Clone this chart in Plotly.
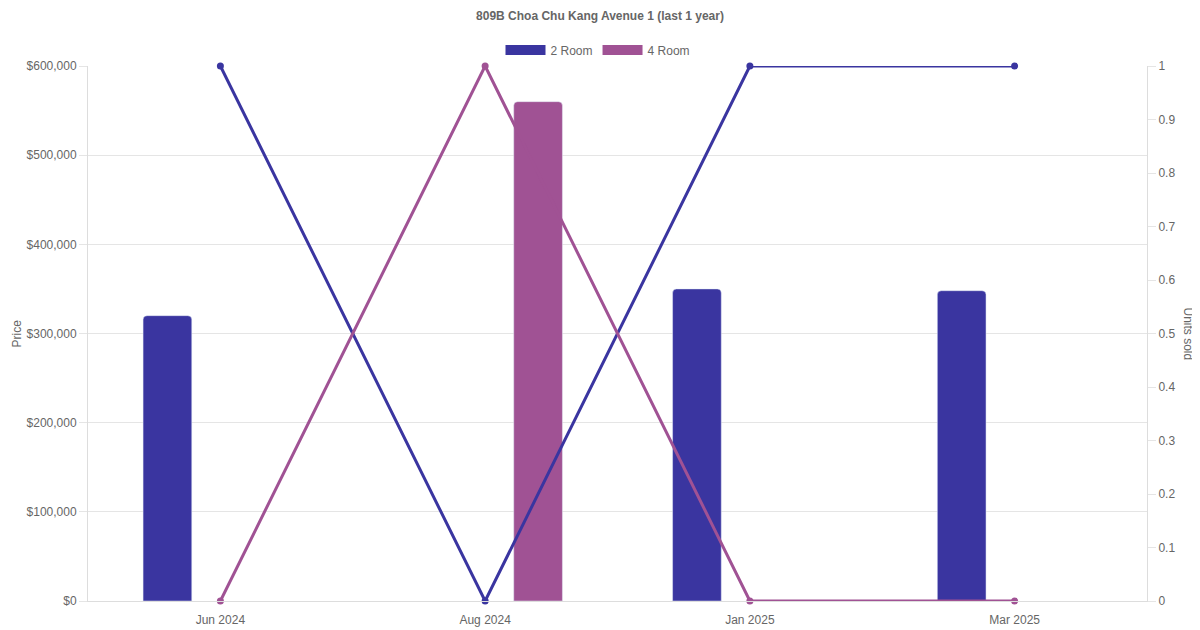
import plotly.graph_objects as go

months = ["Jun 2024", "Aug 2024", "Jan 2025", "Mar 2025"]
price_2room = [320000, None, 350000, 348000]
price_4room = [None, 560000, None, None]
units_2room = [1, 0, 1, 1]
units_4room = [0, 1, 0, 0]

c2 = "#3a35a0"
c4 = "#a05294"
grey = "#666666"

fig = go.Figure()
fig.add_trace(go.Bar(x=months, y=price_2room, name="2 Room", marker_color=c2,
                     showlegend=False, legendgroup="2", yaxis="y"))
fig.add_trace(go.Bar(x=months, y=price_4room, name="4 Room", marker_color=c4,
                     showlegend=False, legendgroup="4", yaxis="y"))
fig.add_trace(go.Scatter(x=months, y=units_2room, mode="lines+markers", name="2 Room",
                         line=dict(color=c2, width=3), marker=dict(size=7, color=c2),
                         showlegend=False, legendgroup="2", yaxis="y2", cliponaxis=False))
fig.add_trace(go.Scatter(x=months, y=units_4room, mode="lines+markers", name="4 Room",
                         line=dict(color=c4, width=3), marker=dict(size=7, color=c4),
                         showlegend=False, legendgroup="4", yaxis="y2", cliponaxis=False))
# legend-only entries drawn as wide boxes
for nm, col, grp in [("2 Room", c2, "2"), ("4 Room", c4, "4")]:
    fig.add_trace(go.Scatter(x=[None], y=[None], mode="lines", name=nm, legendgroup=grp,
                             line=dict(color=col, width=12), yaxis="y2"))

# the page adds an 8px body margin, so positions are shifted by -8px
fig.update_layout(
    width=1200, height=630,
    font=dict(family="Liberation Sans, Arial, sans-serif", size=12, color=grey),
    title=dict(text="<b>809B Choa Chu Kang Avenue 1 (last 1 year)</b>", x=592 / 1200,
               y=1 - 8 / 630, xanchor="center", yanchor="middle",
               font=dict(size=12, color=grey)),
    legend=dict(orientation="h", x=(590 - 80) / 1059, xanchor="center",
                y=1 + 16 / 535, yanchor="middle", font=dict(size=12, color=grey),
                itemwidth=40, tracegroupgap=0),
    barmode="group", bargap=0.2, bargroupgap=0.54, barcornerradius=4,
    plot_bgcolor="white", paper_bgcolor="white",
    margin=dict(l=80, r=61, t=58, b=37, autoexpand=False),
    xaxis=dict(type="category", range=[-0.5, 3.5], showgrid=False, showline=True,
               linecolor="#dddddd", ticks="outside", ticklen=8,
               tickcolor="rgba(0,0,0,0)", tickfont=dict(size=12, color=grey),
               automargin=False),
    yaxis=dict(range=[0, 600000], dtick=100000,
               tickprefix="$", tickformat=",d", gridcolor="#e5e5e5", showline=True,
               linecolor="#dddddd", ticks="outside", ticklen=8, tickcolor="#e5e5e5",
               zeroline=False, automargin=False),
    yaxis2=dict(overlaying="y", side="right",
                range=[0, 1], dtick=0.1, showgrid=False, showline=True,
                linecolor="#dddddd", ticks="outside", ticklen=8, tickcolor="#e5e5e5",
                zeroline=False, automargin=False),
    annotations=[
        dict(text="Price", xref="paper", yref="paper", x=0, y=0.5, xshift=-72,
             xanchor="center", yanchor="middle",
             textangle=-90, showarrow=False, font=dict(size=12, color=grey)),
        dict(text="Units sold", xref="paper", yref="paper", x=1, y=0.5, xshift=41,
             xanchor="center", yanchor="middle",
             textangle=90, showarrow=False, font=dict(size=12, color=grey)),
    ],
)

fig.write_html("out.html")
